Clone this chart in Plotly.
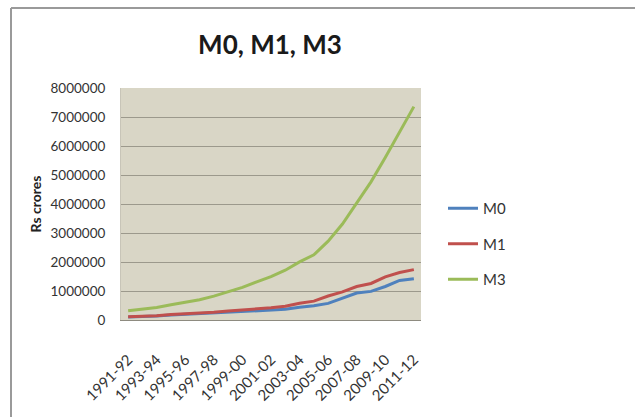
import plotly.graph_objects as go

years = ["1991-92", "1992-93", "1993-94", "1994-95", "1995-96", "1996-97", "1997-98",
         "1998-99", "1999-00", "2000-01", "2001-02", "2002-03", "2003-04", "2004-05",
         "2005-06", "2006-07", "2007-08", "2008-09", "2009-10", "2010-11", "2011-12"]

m0 = [99505, 110635, 138672, 169283, 194457, 199985, 226402, 259286, 280555, 303311,
      337970, 368260, 436512, 489135, 573066, 739517, 928323, 987144, 1155306, 1363547, 1425048]
m1 = [114406, 124066, 150778, 192257, 214835, 240615, 267844, 309068, 341796, 379450,
      422843, 473581, 578716, 649790, 826375, 967955, 1155837, 1259707, 1489301, 1638348, 1737394]
m3 = [317049, 364016, 431084, 527596, 599191, 696012, 821332, 980960, 1124174, 1313220,
      1498355, 1717936, 2005676, 2245653, 2719519, 3310068, 4017883, 4764019, 5602698, 6504116, 7357542]

shown_ticks = years[::2]
y_ticks = [0, 1000000, 2000000, 3000000, 4000000, 5000000, 6000000, 7000000, 8000000]

FONT = "Lato"

fig = go.Figure()
fig.add_trace(go.Scatter(x=years, y=m0, name="M0", mode="lines", legendgroup="a",
                         line=dict(color="#4F81BD", width=3)))
fig.add_trace(go.Scatter(x=years, y=m1, name="M1", mode="lines", legendgroup="b",
                         line=dict(color="#C0504D", width=3)))
fig.add_trace(go.Scatter(x=years, y=m3, name="M3", mode="lines", legendgroup="c",
                         line=dict(color="#9BBB59", width=3)))

# plot area: left=121, right=421, top=88, bottom=320
L, R, T, B = 121, 421, 88, 320
W, H = 635, 417
pw, ph = R - L, B - T

fig.update_layout(
    width=W, height=H,
    margin=dict(l=L, r=W - R, t=T, b=H - B, pad=0),
    paper_bgcolor="white",
    plot_bgcolor="#D9D6C6",
    font=dict(family=FONT, size=13, color="#333333"),
    title=dict(text="<b>M0, M1, M3</b>", x=270 / W, xanchor="center",
               y=1 - 45 / H, yanchor="middle",
               font=dict(family=FONT, size=26, color="#1a1a1a")),
    showlegend=True,
    legend=dict(x=(443 - L) / pw, xanchor="left", y=1 - (192 - T) / ph, yanchor="top",
                font=dict(family=FONT, size=15, color="#333333"),
                tracegroupgap=13, itemwidth=30, bgcolor="rgba(0,0,0,0)"),
    xaxis=dict(type="category", range=[-0.5, len(years) - 0.5],
               tickmode="array", tickvals=shown_ticks, ticktext=shown_ticks,
               tickangle=-45, showgrid=False, showline=True, linecolor="#8E8B80",
               linewidth=1, ticks="outside", ticklen=24, tickcolor="rgba(0,0,0,0)",
               tickfont=dict(family=FONT, size=15, color="#333333"),
               zeroline=False, mirror=False),
    yaxis=dict(range=[0, 8000000], tickmode="array", tickvals=y_ticks,
               ticktext=[str(v) for v in y_ticks], showgrid=True, gridcolor="#9C998C",
               gridwidth=1, zeroline=False, showline=True, linecolor="#C8C5B8",
               ticks="outside", ticklen=12, tickcolor="rgba(0,0,0,0)",
               tickfont=dict(family=FONT, size=13.5, color="#333333"),
               title=dict(text="<b>Rs crores</b>", standoff=5,
                          font=dict(family=FONT, size=14, color="#222222"))),
    shapes=[
        dict(type="line", xref="paper", yref="paper",
             x0=(11 - L) / pw, x1=(11 - L) / pw, y0=1 + (T - 8) / ph, y1=-0.5,
             line=dict(color="#9A9A9A", width=2), layer="below"),
        dict(type="line", xref="paper", yref="paper",
             x0=(11 - L) / pw, x1=1.8, y0=1 + (T - 8) / ph, y1=1 + (T - 8) / ph,
             line=dict(color="#9A9A9A", width=2), layer="below"),
    ],
)

fig.write_html("out.html")
